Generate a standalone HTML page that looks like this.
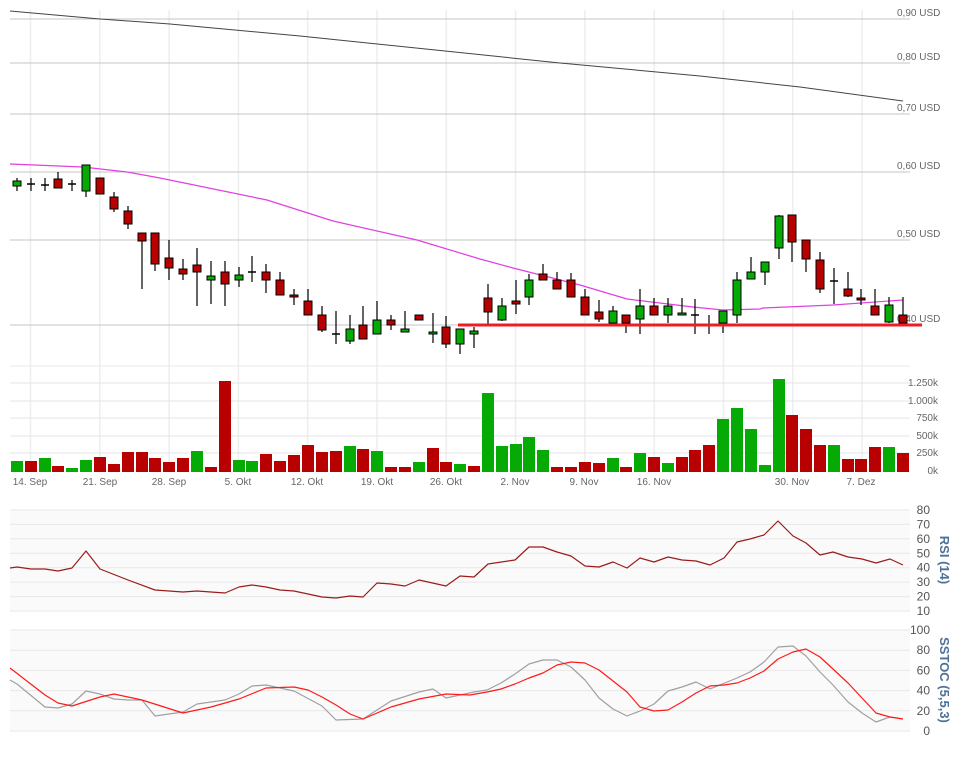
<!DOCTYPE html>
<html><head><meta charset="utf-8"><style>
html,body{margin:0;padding:0;background:#fff;width:968px;height:765px;overflow:hidden}
svg{display:block;font-family:"Liberation Sans",sans-serif}
</style></head><body>
<svg id="s" width="968" height="765" xmlns="http://www.w3.org/2000/svg"></svg>
<script>
var s=document.getElementById('s'),h='';
function L(x1,y1,x2,y2,c,w){h+='<line x1="'+x1+'" y1="'+y1+'" x2="'+x2+'" y2="'+y2+'" stroke="'+c+'" stroke-width="'+(w||1)+'"/>';}
function T(x,y,t,o){h+='<text x="'+x+'" y="'+y+'" '+(o||'')+'>'+t+'</text>';}
function P(pts,c,w){h+='<polyline fill="none" stroke="'+c+'" stroke-width="'+(w||1)+'" stroke-linejoin="round" points="'+pts.map(p=>p.join(',')).join(' ')+'"/>';}
// vertical grid
for(var i=0;i<13;i++){var x=30.5+69.3*i;L(x,10,x,472,'#eeeeee',1.5);}
// price grid
[[19,'0,90'],[63,'0,80'],[114,'0,70'],[172,'0,60'],[240,'0,50'],[325,'0,40']].forEach(g=>{L(10,g[0],910,g[0],'#c4c4c4');T(897,g[0]-3,g[1]+' USD','font-size="10" fill="#666"');});
L(10,366,910,366,'#e8e8e8');
// long MA
P([[10,11],[100,19],[170,24],[300,36],[445,51],[560,63],[700,76],[800,87],[903,101]],'#444',1);
// short MA
P([[10,164],[83,167],[127,172],[160,178],[267,200],[333,221],[417,240],[480,259],[513,268],[580,285],[627,299],[693,307],[723,310],[760,309],[763,308],[833,305],[903,300]],'#e040e0',1.2);
// candles: x, open, close, high, low (y px), green?
var C=[[17,186,181,178,191,1],[31,184,184,178,191],[45,185,185,178,191],[58,179,188,172,188,0],[72,184,184,180,191],[86,191,165,165,197,1],[100,178,194,178,194,0],[114,197,209,192,212,0],[128,211,224,206,229,0],[142,233,241,233,289,0],[155,233,264,233,271,0],[169,258,268,240,280,0],[183,269,274,259,280,0],[197,265,272,248,306,0],[211,280,276,261,304,1],[225,272,284,261,306,0],[239,280,275,267,287,1],[252,272,272,256,282],[266,272,280,264,293,0],[280,280,295,272,295,0],[294,295,297,289,305,0],[308,301,315,289,315,0],[322,315,330,306,332,0],[336,334,334,311,344],[350,341,329,315,344,1],[363,325,339,306,339,0],[377,334,320,301,334,1],[391,320,325,315,330,0],[405,332,329,311,332,1],[419,315,320,315,320,0],[433,334,332,313,343,1],[446,327,344,316,348,0],[460,344,329,329,354,1],[474,334,331,327,348,1],[488,298,312,284,324,0],[502,320,306,298,321,1],[516,301,304,280,314,0],[529,297,280,274,305,1],[543,274,280,264,280,0],[557,280,289,272,289,0],[571,280,297,273,297,0],[585,297,315,289,315,0],[599,312,319,300,322,0],[613,323,311,306,323,1],[626,315,323,315,333,0],[640,319,306,289,334,1],[654,306,315,298,315,0],[668,315,306,298,323,1],[682,315,313,298,315,1],[695,315,315,299,334],[709,325,325,315,334],[723,323,311,311,333,1],[737,315,280,272,323,1],[751,279,272,257,279,1],[765,272,262,262,285,1],[779,248,216,215,259,1],[792,215,242,215,262,0],[806,240,259,240,272,0],[820,260,289,252,293,0],[834,281,281,268,304],[848,289,296,272,297,0],[861,298,300,289,305,0],[875,306,315,289,315,0],[889,322,305,297,323,1],[903,315,323,297,323,0]];
C.forEach(c=>{L(c[0],c[3],c[0],c[4],'#000',1.2);
 if(c.length<6){L(c[0]-4,c[1],c[0]+4,c[1],'#000',1.5);}
 else{var t=Math.min(c[1],c[2]),b=Math.max(c[1],c[2]);h+='<rect x="'+(c[0]-4)+'" y="'+t+'" width="8" height="'+Math.max(b-t,2)+'" fill="'+(c[5]?'#05aa05':'#b80000')+'" stroke="#000" stroke-width="1"/>';}});
L(458,325,922,325,'#ee1c25',3);
// volume grid
[[471,'0k'],[453,'250k'],[436,'500k'],[418,'750k'],[401,'1.000k'],[383,'1.250k']].forEach(g=>{L(10,g[0],910,g[0],'#e4e4e4');T(938,g[0]+3,g[1],'font-size="10" fill="#666" text-anchor="end"');});
var V=[[461,1],[461,0],[458,1],[466,0],[468,1],[460,1],[457,0],[464,0],[452,0],[452,0],[458,0],[462,0],[458,0],[451,1],[467,0],[381,0],[460,1],[461,1],[454,0],[461,0],[455,0],[445,0],[452,0],[451,0],[446,1],[449,0],[451,1],[467,0],[467,0],[462,1],[448,0],[462,0],[464,1],[466,0],[393,1],[446,1],[444,1],[437,1],[450,1],[467,0],[467,0],[462,0],[463,0],[458,1],[467,0],[453,1],[457,0],[463,1],[457,0],[450,0],[445,0],[419,1],[408,1],[429,1],[465,1],[379,1],[415,0],[429,0],[445,0],[445,1],[459,0],[459,0],[447,0],[447,1],[453,0]];
V.forEach((v,i)=>{var x=C[i][0];h+='<rect x="'+(x-6)+'" y="'+v[0]+'" width="12" height="'+(472-v[0])+'" fill="'+(v[1]?'#05aa05':'#b80000')+'"/>';});
[['14. Sep',30],['21. Sep',100],['28. Sep',169],['5. Okt',238],['12. Okt',307],['19. Okt',377],['26. Okt',446],['2. Nov',515],['9. Nov',584],['16. Nov',654],['30. Nov',792],['7. Dez',861]].forEach(l=>T(l[1],485,l[0],'font-size="10" fill="#666" text-anchor="middle"'));
// RSI panel
h+='<rect x="10" y="510" width="900" height="101" fill="#fafafa"/>';
[80,70,60,50,40,30,20,10].forEach((v,i)=>{var y=510+(80-v)*1.443;L(10,y,910,y,'#e8e8e8');T(930,y+4,v,'font-size="12" fill="#555" text-anchor="end"');});
P([[10,568],[17,567],[31,569],[45,569],[58,571],[72,568],[86,551],[100,569],[128,580],[155,590],[183,592],[197,591],[211,592],[225,593],[239,587],[252,585],[266,587],[280,590],[294,591],[322,597],[336,598],[350,596],[363,597],[377,583],[391,584],[405,586],[419,580],[446,586],[460,576],[474,577],[488,564],[515,560],[529,547],[543,547],[557,552],[571,556],[585,566],[599,567],[613,562],[627,568],[640,558],[654,562],[668,557],[682,560],[696,561],[710,565],[724,558],[737,542],[750,539],[764,535],[778,521],[793,536],[806,543],[820,555],[833,552],[848,557],[862,559],[876,563],[890,559],[903,565]],'#9b1c1c',1.2);
h+='<text transform="translate(940,560) rotate(90)" font-size="13" font-weight="bold" fill="#4d7198" text-anchor="middle">RSI (14)</text>';
// SSTOC panel
h+='<rect x="10" y="630" width="900" height="101" fill="#fafafa"/>';
[100,80,60,40,20,0].forEach(v=>{var y=731-v*1.01;L(10,y,910,y,'#e8e8e8');T(930,y+4,v,'font-size="12" fill="#555" text-anchor="end"');});
P([[10,680],[17,684],[45,707],[58,708],[72,704],[86,691],[100,694],[114,699],[128,700],[142,700],[155,716],[183,712],[197,704],[225,700],[239,694],[252,686],[266,685],[294,691],[322,706],[336,720],[363,719],[377,710],[391,701],[419,692],[433,689],[446,698],[474,692],[487,690],[501,683],[515,674],[529,664],[543,660],[557,660],[571,667],[585,680],[599,698],[613,709],[627,716],[640,711],[654,704],[668,691],[682,687],[696,682],[710,689],[737,678],[750,672],[764,662],[778,647],[793,646],[806,656],[820,672],[833,685],[848,702],[862,713],[876,722],[890,717],[903,719]],'#a0a0a0',1.2);
P([[10,668],[45,695],[58,703],[72,706],[100,697],[114,694],[142,700],[183,713],[211,707],[239,699],[266,688],[294,687],[308,690],[322,697],[336,705],[350,714],[363,719],[391,707],[419,699],[446,694],[470,695],[487,692],[501,689],[515,684],[529,678],[543,673],[557,665],[571,662],[585,663],[599,670],[613,681],[627,692],[640,707],[654,711],[668,710],[682,702],[696,693],[710,686],[724,685],[737,683],[750,678],[764,671],[778,659],[793,652],[806,649],[820,657],[833,669],[848,683],[862,698],[876,713],[890,717],[903,719]],'#ff1a1a',1.2);
h+='<text transform="translate(940,680) rotate(90)" font-size="13" font-weight="bold" fill="#4d7198" text-anchor="middle">SSTOC (5,5,3)</text>';
s.innerHTML=h;
</script>
</body></html>
